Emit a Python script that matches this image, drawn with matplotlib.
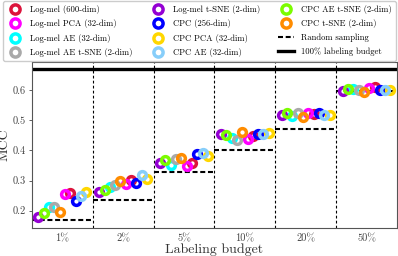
import matplotlib
matplotlib.use("Agg")
import matplotlib.pyplot as plt
from matplotlib.lines import Line2D

plt.rcParams['font.family'] = ['cmr10', 'DejaVu Serif']
plt.rcParams['axes.unicode_minus'] = False
plt.rcParams['mathtext.fontset'] = 'cm'

budgets = ['1%', '2%', '5%', '10%', '20%', '50%']

# MCC per labeling budget
logmel_600 = [0.260, 0.302, 0.360, 0.448, 0.521, 0.610]
logmel_pca = [0.256, 0.289, 0.347, 0.437, 0.525, 0.609]
logmel_ae = [0.213, 0.280, 0.352, 0.443, 0.514, 0.604]
logmel_ae_tsne = [0.211, 0.286, 0.372, 0.434, 0.523, 0.601]
logmel_tsne = [0.180, 0.263, 0.358, 0.454, 0.518, 0.599]
cpc_256 = [0.233, 0.291, 0.389, 0.454, 0.523, 0.601]
cpc_pca = [0.262, 0.306, 0.380, 0.459, 0.518, 0.601]
cpc_ae = [0.249, 0.319, 0.391, 0.454, 0.518, 0.601]
cpc_ae_tsne = [0.191, 0.269, 0.367, 0.451, 0.525, 0.603]
cpc_tsne = [0.197, 0.297, 0.374, 0.462, 0.510, 0.595]
random_sampling = [0.169, 0.235, 0.328, 0.403, 0.470, 0.597]
full_budget = 0.670

# (label, values, colour, slot inside group)
series = [
    ('Log-mel (600-dim)', logmel_600, '#DC143C', 6),
    ('Log-mel PCA (32-dim)', logmel_pca, '#FF00FF', 5),
    ('Log-mel AE (32-dim)', logmel_ae, '#00FFFF', 2),
    ('Log-mel AE t-SNE (2-dim)', logmel_ae_tsne, '#A9A9A9', 3),
    ('Log-mel t-SNE (2-dim)', logmel_tsne, '#9400D3', 0),
    ('CPC (256-dim)', cpc_256, '#0000FF', 7),
    ('CPC PCA (32-dim)', cpc_pca, '#FFD700', 9),
    ('CPC AE (32-dim)', cpc_ae, '#87CEFA', 8),
    ('CPC AE t-SNE (2-dim)', cpc_ae_tsne, '#7CFC00', 1),
    ('CPC t-SNE (2-dim)', cpc_tsne, '#FF8C00', 4),
]

fig = plt.figure(figsize=(3.98, 2.56), dpi=100)
ax = fig.add_axes([0.08, 0.11, 0.9175, 0.648])

n = len(series)
step = 0.087
ms, mew = 5.6, 2.5
handles = []
for label, vals, col, slot in series:
    xs = [i + (slot - (n - 1) / 2) * step for i in range(len(budgets))]
    ax.plot(xs, vals, ls='none', marker='o', ms=ms, mew=mew,
            mfc='none', mec=col, zorder=3)
    handles.append(Line2D([], [], ls='none', marker='o', ms=ms + 1.0, mew=mew,
                          mfc='none', mec=col, label=label))

for i, v in enumerate(random_sampling):
    ax.plot([i - 0.5, i + 0.5], [v, v], color='black', lw=1.5,
            ls=(0, (2.4, 1.3)), zorder=2)
ax.axhline(full_budget, color='black', lw=2.4, zorder=2)
for i in range(1, len(budgets)):
    ax.axvline(i - 0.5, color='black', lw=0.8, ls=(0, (2.5, 2)), zorder=1)

handles.append(Line2D([], [], color='black', lw=1.5, ls=(0, (2.4, 1.3)),
                      label='Random sampling'))
handles.append(Line2D([], [], color='black', lw=2.4,
                      label='100% labeling budget'))

ax.set_xlim(-0.5, len(budgets) - 0.5)
ax.set_ylim(0.143, 0.694)
ax.set_xticks(range(len(budgets)))
ax.set_xticklabels(budgets)
ax.set_yticks([0.2, 0.3, 0.4, 0.5, 0.6])
ax.set_yticklabels(['0.2', '0.3', '0.4', '0.5', '0.6'])
ax.tick_params(axis='x', length=0, labelsize=7.5, colors='#444444', pad=4)
ax.tick_params(axis='y', length=2.5, labelsize=7.5, colors='#444444',
               width=0.6, pad=2)
for sp in ax.spines.values():
    sp.set_color('#555555')
    sp.set_linewidth(0.8)
ax.set_xlabel('Labeling budget', fontsize=10, color='#333333', labelpad=0)
ax.set_ylabel('MCC', fontsize=10, color='#333333')
ax.yaxis.set_label_coords(-0.058, 0.5)

fig.legend(handles=handles, ncol=3, loc='upper left',
           bbox_to_anchor=(0.0075, 0.996, 0.9875, 0), mode='expand',
           fontsize=6.2, labelspacing=0.62, handlelength=1.9,
           handletextpad=0.8, borderpad=0.45, columnspacing=1.0,
           framealpha=1, edgecolor='#cccccc', borderaxespad=0)

fig.savefig('out.png', dpi=100)
